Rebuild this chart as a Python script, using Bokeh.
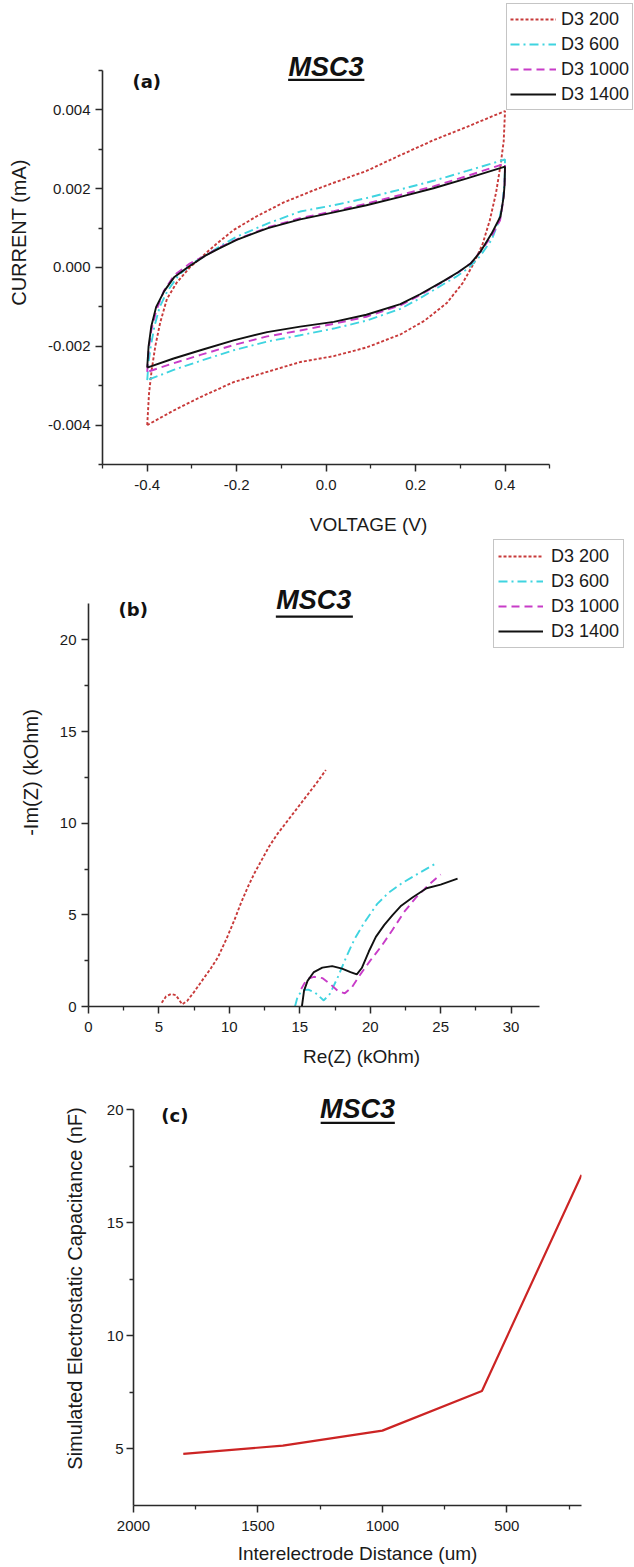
from bokeh.plotting import figure
from bokeh.layouts import column
from bokeh.models import (Range1d, FixedTicker, PrintfTickFormatter, Legend, LegendItem,
                          Label, Arrow)
from bokeh.embed import file_html
from bokeh.resources import INLINE

# ---------------- Panel (a): cyclic voltammetry ----------------
series_names = ["D3 200", "D3 600", "D3 1000", "D3 1400"]

cv200_v = [-0.4, -0.396, -0.39, -0.382, -0.371, -0.356, -0.335, -0.305, -0.275, -0.245, -0.207,
           -0.155, -0.095, -0.03, 0.017, 0.09, 0.166, 0.24, 0.315, 0.4,
           0.397, 0.39, 0.38, 0.366, 0.35, 0.33, 0.305, 0.27, 0.22, 0.166, 0.09, 0.017,
           -0.058, -0.132, -0.207, -0.281, -0.341, -0.4]
cv200_i = [-0.004, -0.0032, -0.0026, -0.002, -0.0014, -0.0008, -0.0004, 0.0, 0.0003, 0.0006, 0.00095,
           0.0013, 0.00165, 0.00195, 0.00215, 0.00245, 0.00285, 0.00323, 0.00357, 0.00397,
           0.0032, 0.0026, 0.0019, 0.0012, 0.0006, 0.0001, -0.0004, -0.0009, -0.00135, -0.0017,
           -0.00203, -0.00225, -0.0024, -0.00265, -0.00291, -0.00329, -0.00363, -0.004]

cv600_v = [-0.4, -0.397, -0.392, -0.384, -0.372, -0.355, -0.33, -0.3, -0.27, -0.24, -0.2, -0.13,
           -0.058, 0.017, 0.09, 0.166, 0.24, 0.315, 0.4,
           0.399, 0.395, 0.387, 0.37, 0.345, 0.32, 0.29, 0.263, 0.21, 0.166, 0.09, 0.017,
           -0.058, -0.132, -0.207, -0.281, -0.341, -0.4]
cv600_i = [-0.00286, -0.0024, -0.002, -0.0015, -0.001, -0.0006, -0.0002, 0.0001, 0.0003, 0.00052,
           0.00078, 0.00112, 0.00142, 0.00158, 0.00176, 0.00198, 0.0022, 0.00245, 0.00274,
           0.0022, 0.0017, 0.0012, 0.0007, 0.0003, 0.0, -0.00024, -0.00042, -0.00078, -0.00105,
           -0.00135, -0.00155, -0.00172, -0.00188, -0.0021, -0.00237, -0.0026, -0.00286]

cv1000_v = [-0.4, -0.397, -0.391, -0.38, -0.363, -0.34, -0.305, -0.27, -0.24, -0.2, -0.13, -0.058,
            0.017, 0.09, 0.166, 0.24, 0.315, 0.4,
            0.399, 0.396, 0.389, 0.37, 0.345, 0.323, 0.295, 0.263, 0.21, 0.166, 0.09, 0.017,
            -0.058, -0.132, -0.207, -0.281, -0.341, -0.4]
cv1000_i = [-0.00265, -0.0021, -0.0016, -0.0011, -0.0006, -0.0002, 0.0001, 0.0003, 0.0005, 0.00071,
            0.00102, 0.00125, 0.00143, 0.00162, 0.00184, 0.00206, 0.00232, 0.00264,
            0.0021, 0.0017, 0.0012, 0.0008, 0.0004, 0.0001, -0.00013, -0.00035, -0.0007, -0.00096,
            -0.00125, -0.00143, -0.0016, -0.00175, -0.00197, -0.00222, -0.00243, -0.00265]

cv1400_v = [-0.4, -0.397, -0.391, -0.38, -0.362, -0.34, -0.31, -0.27, -0.24, -0.2, -0.13, -0.058,
            0.017, 0.09, 0.166, 0.24, 0.315, 0.4,
            0.399, 0.397, 0.39, 0.37, 0.345, 0.323, 0.295, 0.263, 0.21, 0.166, 0.09, 0.017,
            -0.058, -0.132, -0.207, -0.281, -0.341, -0.4]
cv1400_i = [-0.00254, -0.002, -0.0015, -0.001, -0.0006, -0.00025, 0.0, 0.0003, 0.00048, 0.0007,
            0.001, 0.00122, 0.0014, 0.00158, 0.00179, 0.00201, 0.00226, 0.00256,
            0.0021, 0.0018, 0.0013, 0.00086, 0.0004, 0.0001, -0.00012, -0.00034, -0.00068, -0.00093,
            -0.0012, -0.00138, -0.0015, -0.00164, -0.00185, -0.0021, -0.00231, -0.00254]

a_xticks = [-0.4, -0.2, 0.0, 0.2, 0.4]
a_xminor = [-0.5, -0.3, -0.1, 0.1, 0.3, 0.5]
a_yticks = [-0.004, -0.002, 0.0, 0.002, 0.004]
a_yminor = [-0.005, -0.003, -0.001, 0.001, 0.003, 0.005]

# ---------------- Panel (b): Nyquist ----------------
z200_re = [5.2, 5.5, 5.85, 6.2, 6.65, 7.0, 7.5, 8.1, 8.7, 9.2, 9.8, 10.35, 10.8, 11.3, 11.8, 12.3,
           12.8, 13.4, 14.0, 14.7, 15.5, 16.2, 16.85]
z200_im = [0.2, 0.55, 0.68, 0.62, 0.12, 0.3, 0.8, 1.45, 2.1, 2.7, 3.7, 4.7, 5.6, 6.5, 7.3, 8.0,
           8.7, 9.4, 10.0, 10.7, 11.5, 12.2, 12.9]
z600_re = [14.66, 14.85, 15.2, 15.6, 16.1, 16.7, 17.15, 17.7, 18.3, 18.9, 19.6, 20.5, 21.3, 22.3,
           23.4, 24.65]
z600_im = [0.0, 0.55, 0.9, 0.92, 0.75, 0.33, 0.7, 1.6, 2.7, 3.7, 4.6, 5.6, 6.2, 6.75, 7.25, 7.8]
z1000_re = [15.1, 15.5, 16.0, 16.6, 17.2, 17.7, 18.2, 18.7, 19.3, 20.0, 20.8, 21.6, 22.4, 23.2,
            24.1, 25.0]
z1000_im = [0.95, 1.5, 1.62, 1.55, 1.2, 0.85, 0.72, 1.05, 1.75, 2.5, 3.3, 4.2, 5.15, 5.9, 6.6, 7.2]
z1400_re = [15.15, 15.3, 15.55, 16.0, 16.6, 17.3, 18.0, 18.6, 19.05, 19.4, 19.9, 20.4, 21.0, 21.6,
            22.2, 23.0, 24.0, 25.0, 26.2]
z1400_im = [0.0, 0.85, 1.4, 1.88, 2.12, 2.2, 2.07, 1.88, 1.75, 2.1, 3.0, 3.8, 4.45, 5.0, 5.5, 5.95,
            6.45, 6.65, 6.97]

b_xticks = [0, 5, 10, 15, 20, 25, 30]
b_xminor = [2.5, 7.5, 12.5, 17.5, 22.5, 27.5]
b_yticks = [0, 5, 10, 15, 20]
b_yminor = [2.5, 7.5, 12.5, 17.5]

# ---------------- Panel (c): capacitance ----------------
distance_um = [1800, 1400, 1000, 600, 200]
capacitance_nF = [4.78, 5.15, 5.81, 7.56, 17.12]
c_xticks = [2000, 1500, 1000, 500]
c_xminor = [1750, 1250, 750, 250]
c_yticks = [5, 10, 15, 20]
c_yminor = [7.5, 12.5, 17.5]

FONT = "Liberation Sans"
AX = "#2a2a2a"
TXT = "#1a1a1a"
W = 634

styles = [("#c83a3a", "3 2"), ("#3fd4e0", "9 4 2 4"), ("#c83cc8", "8 5"), ("#111111", "solid")]


def ext(lo, hi, axis_px, extra_px):
    """range end so that the axis [lo, hi] spans axis_px and the frame continues extra_px."""
    return hi + (hi - lo) * extra_px / axis_px


def make_fig(h, x_range, y_range, bl, br, bt, bb):
    p = figure(width=W, height=h, x_range=x_range, y_range=y_range, title=None,
               toolbar_location=None, output_backend="svg", frame_align=False,
               min_border_left=bl, min_border_right=br, min_border_top=bt, min_border_bottom=bb)
    p.xgrid.visible = False
    p.ygrid.visible = False
    p.outline_line_color = None
    p.background_fill_color = "white"
    p.border_fill_color = "white"
    return p


def style_axes(p, xlabel, ylabel, xt, xm, yt, ym, xfmt, yfmt, x_ls, y_ls, y_std, xb, yb):
    p.xaxis[0].ticker = FixedTicker(ticks=xt, minor_ticks=xm)
    p.yaxis[0].ticker = FixedTicker(ticks=yt, minor_ticks=ym)
    if xfmt:
        p.xaxis[0].formatter = PrintfTickFormatter(format=xfmt)
    if yfmt:
        p.yaxis[0].formatter = PrintfTickFormatter(format=yfmt)
    if xb is not None:
        p.xaxis[0].bounds = xb
    if yb is not None:
        p.yaxis[0].bounds = yb
    p.xaxis[0].axis_label = xlabel
    p.yaxis[0].axis_label = ylabel
    for ax in (p.xaxis[0], p.yaxis[0]):
        ax.axis_line_color = AX
        ax.axis_line_width = 1.6
        ax.major_tick_line_color = AX
        ax.major_tick_line_width = 1.5
        ax.minor_tick_line_color = AX
        ax.minor_tick_line_width = 1.3
        ax.major_tick_out = 7
        ax.major_tick_in = 0
        ax.minor_tick_out = 4
        ax.minor_tick_in = 0
        ax.major_label_text_font = FONT
        ax.major_label_text_font_size = "15px"
        ax.major_label_text_color = TXT
        ax.axis_label_text_font = FONT
        ax.axis_label_text_font_style = "normal"
        ax.axis_label_text_color = TXT
    p.xaxis[0].axis_label_text_font_size = "19px"
    p.yaxis[0].axis_label_text_font_size = "20px"
    p.xaxis[0].major_label_standoff = 8
    p.yaxis[0].major_label_standoff = y_std
    p.xaxis[0].axis_label_standoff = x_ls
    p.yaxis[0].axis_label_standoff = y_ls


def add_title(p, tag, tag_x, tag_y, title_x, title_y, ul_x0, ul_x1, ul_y):
    p.add_layout(Label(x=tag_x, y=tag_y, text=tag, text_align="center", text_baseline="middle",
                       text_font="DejaVu Sans", text_font_style="bold", text_font_size="18px",
                       text_color="#111111"))
    p.add_layout(Label(x=title_x, y=title_y, text="MSC3", text_align="center",
                       text_baseline="middle", text_font=FONT, text_font_style="bold italic",
                       text_font_size="27px", text_color="#111111"))
    p.add_layout(Arrow(start=None, end=None, x_start=ul_x0, y_start=ul_y, x_end=ul_x1, y_end=ul_y,
                       line_color="#111111", line_width=2.2))


def add_legend(p, renderers, loc, pad, gw, gh, spacing, standoff):
    items = [LegendItem(label=n, renderers=[r]) for n, r in zip(series_names, renderers)]
    lg = Legend(items=items, location=loc, padding=pad, spacing=spacing, margin=0,
                glyph_width=gw, glyph_height=gh, label_height=gh, label_standoff=standoff,
                label_text_font=FONT, label_text_font_size="18px", label_text_color=TXT,
                border_line_color="#8c8c8c", border_line_width=1.5,
                background_fill_color="white", background_fill_alpha=1.0)
    p.add_layout(lg)


# ---- figure a: page rows 0..538, frame left 102, axes 447 x 394 px ----
pa = make_fig(538, Range1d(-0.5, ext(-0.5, 0.5, 447, 84.7)),
              Range1d(-0.005, ext(-0.005, 0.005, 394.3, 70)), 102, 0, 0, 74)
style_axes(pa, "VOLTAGE (V)", "CURRENT (mA)", a_xticks, a_xminor, a_yticks, a_yminor,
           "%.1f", "%.3f", 21, 15, 5, (-0.5, 0.5), (-0.005, 0.005))
ra = []
for (vv, ii), (col, dash) in zip([(cv200_v, cv200_i), (cv600_v, cv600_i), (cv1000_v, cv1000_i),
                                   (cv1400_v, cv1400_i)], styles):
    ra.append(pa.line(vv, ii, line_color=col, line_dash=dash, line_width=1.9))
add_legend(pa, ra, (404, 354), 3, 46, 24, 1, 5)
add_title(pa, "(a)", -0.401, 0.00472, 0.0, 0.00509, -0.085, 0.0855, 0.00476)

# ---- figure b: page rows 538..1071 ----
pb = make_fig(533, Range1d(0, ext(0, 32, 451, 95.3)), Range1d(0, ext(0, 22, 403.3, 64.7)),
              88, 0, 0, 65)
style_axes(pb, "Re(Z) (kOhm)", "-Im(Z) (kOhm)", b_xticks, b_xminor, b_yticks, b_yminor,
           None, None, 11, 15, 5, (0, 32), (0, 22))
rb = []
for (xx, yy), (col, dash) in zip([(z200_re, z200_im), (z600_re, z600_im), (z1000_re, z1000_im),
                                   (z1400_re, z1400_im)], styles):
    rb.append(pb.line(xx, yy, line_color=col, line_dash=dash, line_width=1.9))
add_legend(pb, rb, (405, 358), 4, 45, 24, 1, 8)
add_title(pb, "(b)", 3.18, 21.64, 16.0, 22.19, 13.3, 18.77, 21.27)

# ---- figure c: page rows 1071..1567 ----
pc = make_fig(496, Range1d(2000, 200), Range1d(2.5, ext(2.5, 20, 396.4, 38.3)), 133, 53, 0, 62)
style_axes(pc, "Interelectrode Distance (um)", "Simulated Electrostatic Capacitance (nF)",
           c_xticks, c_xminor, c_yticks, c_yminor, None, None, 9, 18, 3, None, (2.5, 20))
pc.line(distance_um, capacitance_nF, line_color="#cc2424", line_width=2.2)
add_title(pc, "(c)", 1834, 19.73, 1100, 20.04, 1248, 950, 19.42)

layout = column(pa, pb, pc, spacing=0)
open("out.html", "w").write(file_html(layout, INLINE))
